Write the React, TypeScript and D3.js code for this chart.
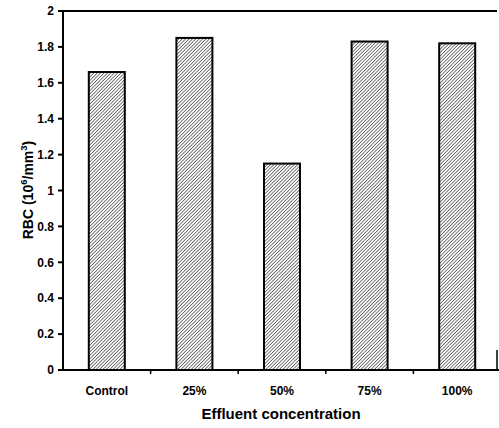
import React from "react";
import * as d3 from "d3";

const categories = ["Control", "25%", "50%", "75%", "100%"];
const values = [1.66, 1.85, 1.15, 1.83, 1.82];
const yTicks = [0, 0.2, 0.4, 0.6, 0.8, 1, 1.2, 1.4, 1.6, 1.8, 2];

export default function App() {
  const W = 499, H = 428;
  const left = 63, right = 501, top = 11, bottom = 370;
  const x = d3.scaleBand().domain(categories).range([left, right]).paddingInner(0).paddingOuter(0);
  const y = d3.scaleLinear().domain([0, 2]).range([bottom, top]);
  const bw = 36;
  const font = "Liberation Sans, Arial, sans-serif";
  return (
    <svg width={W} height={H} style={{ position: "absolute", left: 0, top: 0 }}>
      <defs>
        <pattern id="hatch" patternUnits="userSpaceOnUse" width="2.4" height="2.4" patternTransform="rotate(45)">
          <rect width="2.4" height="2.4" fill="#fff" />
          <line x1="0" y1="0" x2="0" y2="2.4" stroke="#111" strokeWidth="1.1" />
        </pattern>
      </defs>
      <rect width={W} height={H} fill="#fff" />
      {categories.map((c, i) => {
        const cx = (x(c) as number) + x.bandwidth() / 2;
        return (
          <rect key={c} x={cx - bw / 2} y={y(values[i])} width={bw} height={bottom - y(values[i])}
            fill="url(#hatch)" stroke="#000" strokeWidth={2} />
        );
      })}
      <line x1={left} y1={top} x2={497} y2={top} stroke="#000" strokeWidth={2} />
      <line x1={left} y1={top - 1} x2={left} y2={bottom + 1} stroke="#000" strokeWidth={2} />
      <line x1={left} y1={bottom} x2={499} y2={bottom} stroke="#000" strokeWidth={2} />
      <line x1={497} y1={bottom - 20} x2={497} y2={bottom} stroke="#000" strokeWidth={1.5} />
      {yTicks.map((t) => (
        <g key={t}>
          <line x1={left - 5} x2={left} y1={y(t)} y2={y(t)} stroke="#000" strokeWidth={2} />
          <text x={left - 9} y={y(t)} dy="0.35em" textAnchor="end" fontFamily={font} fontWeight="bold" fontSize={12}>
            {String(t)}
          </text>
        </g>
      ))}
      {categories.slice(1).map((c) => (
        <line key={c} x1={x(c)} x2={x(c)} y1={bottom} y2={bottom + 4} stroke="#000" strokeWidth={1.5} />
      ))}
      {categories.map((c) => (
        <text key={c} x={(x(c) as number) + x.bandwidth() / 2} y={395} textAnchor="middle"
          fontFamily={font} fontWeight="bold" fontSize={12}>{c}</text>
      ))}
      <text x={281} y={419} textAnchor="middle" fontFamily={font} fontWeight="bold" fontSize={15}>
        Effluent concentration
      </text>
      <text transform={`translate(33,${190}) rotate(-90)`} textAnchor="middle" fontFamily={font} fontWeight="bold" fontSize={14}>
        RBC (10<tspan dy="-6" fontSize={9.5}>6</tspan><tspan dy="6">/mm</tspan><tspan dy="-6" fontSize={9.5}>3</tspan><tspan dy="6">)</tspan>
      </text>
    </svg>
  );
}
